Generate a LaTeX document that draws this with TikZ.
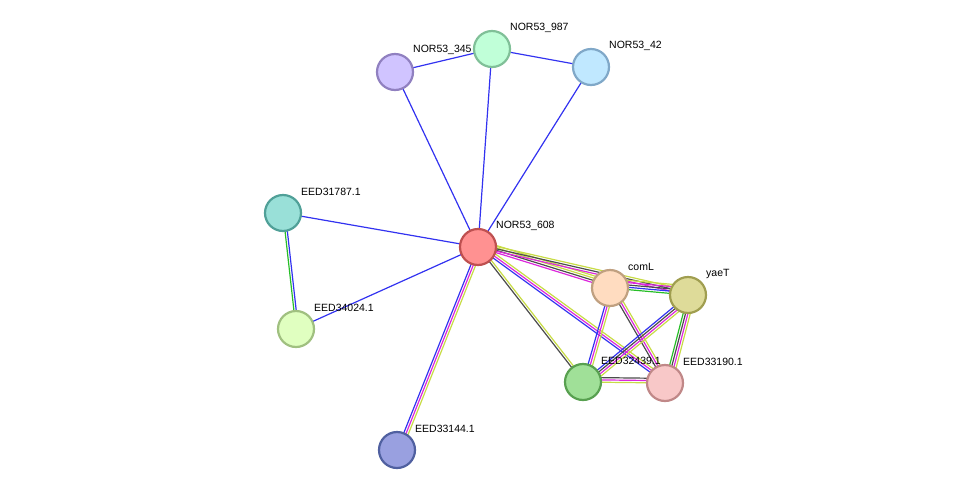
\documentclass[tikz,border=0pt]{standalone}
\usepackage{fontspec}
\setmainfont{Liberation Sans}
\usetikzlibrary{calc}
\begin{document}
\begin{tikzpicture}[x=1pt,y=-1pt,
  prot/.style={circle,minimum size=36pt,inner sep=0pt,line width=2.2pt},
  lab/.style={anchor=west,font=\fontsize{10.5}{12}\selectfont,inner sep=0pt},
  eb/.style={color={rgb,255:red,50;green,50;blue,240}},
  em/.style={color={rgb,255:red,220;green,40;blue,220}},
  ey/.style={color={rgb,255:red,200;green,220;blue,70}},
  ek/.style={color=black!70},
  eg/.style={color={rgb,255:red,40;green,190;blue,40}}]
\useasboundingbox (0,0) rectangle (975,496);
\newcommand\medge[3]{%
  \foreach \cc [count=\ii] in {#3} {%
    \pgfmathsetmacro\dd{(\ii-1)*2.3}
    \draw[\cc,line width=1.2pt] ($(#1)!\dd pt!90:(#2)$) -- ($(#2)!\dd pt!-90:(#1)$);
  }}
\coordinate (p608) at (478,247);
\coordinate (p345) at (395,72);
\coordinate (p987) at (492,49);
\coordinate (p42) at (591,67);
\coordinate (p787) at (283,213);
\coordinate (p024) at (296,329);
\coordinate (p144) at (397,450);
\coordinate (pcom) at (610,288);
\coordinate (pyae) at (688,295);
\coordinate (p439) at (583,382);
\coordinate (p190) at (665,383);
\medge{p608}{p345}{eb}
\medge{p608}{p987}{eb}
\medge{p608}{p42}{eb}
\medge{p345}{p987}{eb}
\medge{p987}{p42}{eb}
\medge{p608}{p787}{eb}
\medge{p608}{p024}{eb}
\medge{p787}{p024}{eg,eb}
\medge{p608}{p144}{eb,em,ey}
\medge{p608}{pcom}{em,ek,ey,ey}
\medge{p608}{pyae}{em,ek,ey}
\medge{p608}{p439}{ek,ey}
\medge{p608}{p190}{eb,em,ey}
\medge{pcom}{pyae}{eg,eb,ek,em,ey}
\medge{pcom}{p439}{eb,em,ey}
\medge{pcom}{p190}{ek,em,ey}
\medge{pyae}{p439}{eb,ek,em,ey}
\medge{pyae}{p190}{eg,ek,em,ey}
\medge{p439}{p190}{ey,em,ek}
\node[prot,fill={rgb,255:red,255;green,145;blue,145},draw={rgb,255:red,190;green,80;blue,80}] (n608) at (p608) {};
\node[prot,fill={rgb,255:red,208;green,196;blue,255},draw={rgb,255:red,144;green,128;blue,192}] (n345) at (p345) {};
\node[prot,fill={rgb,255:red,192;green,255;blue,216},draw={rgb,255:red,128;green,192;blue,152}] (n987) at (p987) {};
\node[prot,fill={rgb,255:red,192;green,232;blue,255},draw={rgb,255:red,128;green,168;blue,200}] (n42) at (p42) {};
\node[prot,fill={rgb,255:red,153;green,224;blue,216},draw={rgb,255:red,80;green,160;blue,152}] (n787) at (p787) {};
\node[prot,fill={rgb,255:red,224;green,255;blue,192},draw={rgb,255:red,160;green,192;blue,128}] (n024) at (p024) {};
\node[prot,fill={rgb,255:red,153;green,160;blue,224},draw={rgb,255:red,80;green,96;blue,160}] (n144) at (p144) {};
\node[prot,fill={rgb,255:red,255;green,220;blue,192},draw={rgb,255:red,192;green,160;blue,128}] (ncom) at (pcom) {};
\node[prot,fill={rgb,255:red,222;green,219;blue,153},draw={rgb,255:red,160;green,158;blue,80}] (nyae) at (pyae) {};
\node[prot,fill={rgb,255:red,160;green,224;blue,152},draw={rgb,255:red,88;green,160;blue,80}] (n439) at (p439) {};
\node[prot,fill={rgb,255:red,248;green,200;blue,200},draw={rgb,255:red,192;green,136;blue,136}] (n190) at (p190) {};
\node[lab] (l608) at ($(p608)+(18,-21)$) {NOR53\_608};
\node[lab] (l345) at ($(p345)+(18,-22)$) {NOR53\_345};
\node[lab] (l987) at ($(p987)+(18,-21)$) {NOR53\_987};
\node[lab] (l42) at ($(p42)+(18,-21)$) {NOR53\_42};
\node[lab] (l787) at ($(p787)+(18,-21)$) {EED31787.1};
\node[lab] (l024) at ($(p024)+(18,-21)$) {EED34024.1};
\node[lab] (l144) at ($(p144)+(18,-21)$) {EED33144.1};
\node[lab] (lcom) at ($(pcom)+(18,-21)$) {comL};
\node[lab] (lyae) at ($(pyae)+(18,-21)$) {yaeT};
\node[lab] (l439) at ($(p439)+(18,-21)$) {EED32439.1};
\node[lab] (l190) at ($(p190)+(18,-21)$) {EED33190.1};
\end{tikzpicture}
\end{document}
